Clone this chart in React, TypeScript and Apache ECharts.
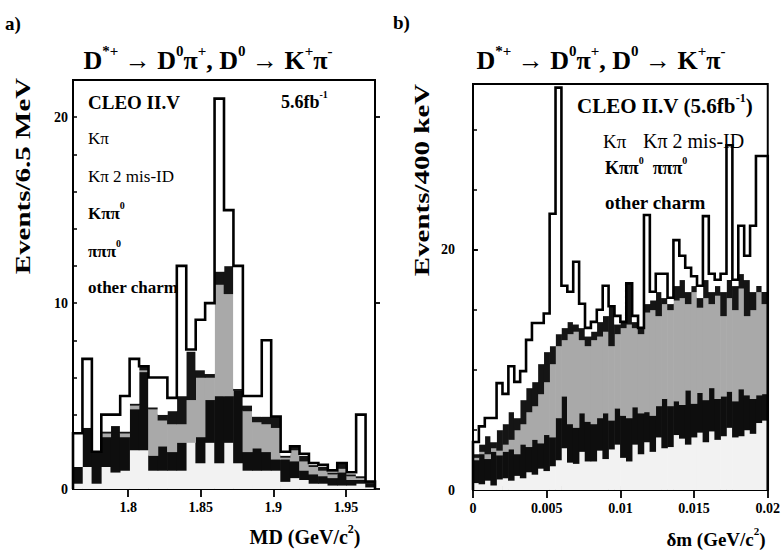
import React, { useEffect, useRef } from "react";
import * as echarts from "echarts";

// ---------- Panel a: MD distribution, 6.5 MeV bins ----------
const mdBinStart = 1.762;
const mdBinWidth = 0.0065;
// stacked contributions per bin (bottom -> top)
const mdOtherCharm = [0.3,1.2,0.3,1.2,0.9,1.0,2.1,2.1,1.0,1.0,1.0,1.0,2.5,1.4,2.5,1.4,2.5,1.4,1.0,1.0,1.0,1.0,0.4,0.6,0.5,0.3,0.3,0.2,0.2,0.2,0.3,0.1];
const mdPiPiPi0 = [0.9,2.1,1.7,1.6,2.5,1.8,2.2,4.2,0.8,1.3,1.0,1.5,0,1.4,2.3,3.6,2.5,3.9,1.0,1.2,1.0,0.6,1.2,0.9,0.5,0.5,0.4,0.4,0.7,0.3,0.2,0.2];
const mdKPiPi0 = [0,0,0,0.2,0,0.2,0.2,0.1,2.5,1.4,1.5,1.0,2.3,3.2,1.2,6.0,5.5,0,2.2,1.4,1.5,1.7,0.1,0.6,0.5,0.4,0.3,0.2,0.2,0.2,0.1,0];
const mdKPi2MisId = [0,0,0,0.1,0,0.1,0.1,0.2,0.1,0.3,0.7,1.5,2.6,0.4,0.2,0.7,1.5,0.1,0.3,0.3,0.4,0.6,0.1,0.2,0.3,0.1,0.2,0.1,0.3,0.1,0.1,0.1];
const mdKPi = [1.8,3.7,0,0.9,0.6,1.9,2.4,0,1.6,2.0,0.7,7.0,0.1,2.7,3.8,9.3,3.0,6.6,0.5,1.1,4.1,0,0.2,0,0.1,0.1,0.1,0.1,0,0.1,3.3,0];
const mdTickLabels = [1.8, 1.85, 1.9, 1.95];
const mdYTickLabels = [0, 10, 20];

// ---------- Panel b: delta m distribution, 400 keV bins ----------
const dmBinStart = 0;
const dmBinWidth = 0.0004;
const dmOtherCharm = [0.6,0.5,0.8,0.4,0.9,1.0,0.8,1.2,1.0,1.5,1.3,1.8,1.6,2.0,2.5,3.5,2.3,2.2,3.2,2.4,2.4,3.3,2.6,3.4,3.8,2.7,2.4,3.8,3.0,4.0,3.2,4.4,3.5,3.6,4.6,4.3,3.8,4.4,4.8,4.0,4.9,4.2,4.5,5.2,4.4,4.5,5.0,4.7,5.6,5.8];
const dmPiPiPi0 = [1.9,2.5,1.8,2.8,2.0,2.2,2.6,1.8,2.8,2.1,2.9,2.1,3.0,2.4,3.5,4.3,3.2,3.0,3.2,3.3,3.1,2.7,3.8,2.4,3.0,3.5,3.6,3.1,3.4,2.5,3.0,2.6,4.1,3.4,2.8,2.8,4.5,2.8,3.3,3.5,3.6,3.4,3.3,3.0,3.0,3.9,2.9,2.9,2.3,2.2];
const dmKPiPi0 = [0.2,0.2,0.4,0.3,0.4,0.6,0.8,2.0,1.7,2.9,2.8,4.1,4.4,6.1,6.0,4.7,7.5,8.0,6.1,6.3,7.0,6.8,6.8,6.2,6.2,7.3,7.8,6.6,6.6,8.3,8.8,7.5,7.9,8.0,8.4,8.9,7.2,9.3,7.1,8.5,7.0,8.6,6.7,7.8,7.6,8.4,6.6,7.4,8.6,7.5];
const dmKPi2MisId = [0.3,0.6,1.5,0.5,1.7,1.7,2.3,1.0,2.0,2.0,2.0,2.5,2.5,1.5,1.0,1.0,1.0,0.6,1.0,0.8,0.7,1.2,1.3,3.3,0.8,0.5,3.4,0.5,0.5,0.7,0.8,2.0,0.5,0.5,1.2,1.5,1.0,0.5,0.8,1.5,1.0,0.8,2.0,1.5,2.0,1.2,3.0,1.5,0.5,1.0];
const dmKPi = [1.0,1.5,1.5,2.0,3.9,2.5,3.8,3.0,2.4,4.0,4.9,3.4,3.2,11.0,20.5,3.5,2.5,5.2,2.0,0.7,0.8,1.0,2.5,0,0.7,0,0,0.5,0,7.4,0.7,1.5,2.0,0.5,3.8,2.0,2.0,0.8,1.0,5.3,1.5,0.5,1.5,11.2,0.5,4.0,2.0,5.5,10.8,11.3];
const dmTickLabels = [0, 0.005, 0.01, 0.015, 0.02];
const dmYTickLabels = [0, 20];

const FONT = "'Liberation Serif', 'DejaVu Serif', serif";
const layerColors = ["#f2f2f2", "#0e0e0e", "#a9a9a9", "#151515", "#ffffff"];

function stackBins(start: number, width: number, layers: number[][]) {
  const n = layers[0].length;
  const cum: number[] = new Array(n).fill(0);
  const rects = layers.map((layer) =>
    layer.map((v, i) => {
      const base = cum[i];
      cum[i] = Math.round((cum[i] + v) * 1000) / 1000;
      return [start + i * width, start + (i + 1) * width, base, cum[i]];
    })
  );
  const outline: number[][] = [[start, 0]];
  cum.forEach((t, i) => {
    outline.push([start + i * width, t], [start + (i + 1) * width, t]);
  });
  outline.push([start + n * width, 0]);
  return { rects, outline };
}

function steps(min: number, max: number, step: number) {
  const out: number[] = [];
  const k0 = Math.ceil(min / step - 1e-9);
  for (let k = k0; k * step <= max + 1e-9; k++) out.push(Math.round(k * step * 1e6) / 1e6);
  return out;
}

const rectRenderer = (color: string) => (_params: any, api: any) => {
  const p0 = api.coord([api.value(0), api.value(2)]);
  const p1 = api.coord([api.value(1), api.value(3)]);
  const h = p0[1] - p1[1];
  if (h <= 0.01) return { type: "group", children: [] };
  return {
    type: "rect",
    shape: { x: p0[0] - 0.3, y: p1[1] - 0.3, width: p1[0] - p0[0] + 0.6, height: h + 0.6 },
    style: { fill: color },
  };
};

function histSeries(xi: number, yi: number, start: number, width: number, layers: number[][]) {
  const { rects, outline } = stackBins(start, width, layers);
  const series: any[] = rects.map((data, li) => ({
    type: "custom",
    xAxisIndex: xi,
    yAxisIndex: yi,
    renderItem: rectRenderer(layerColors[li]),
    encode: { x: [0, 1], y: [2, 3] },
    data,
    clip: true,
    silent: true,
    z: 2,
  }));
  series.push({
    type: "line",
    xAxisIndex: xi,
    yAxisIndex: yi,
    data: outline,
    symbol: "none",
    showSymbol: false,
    lineStyle: { color: "#000", width: 2.6, join: "miter" },
    clip: true,
    silent: true,
    z: 5,
  });
  return series;
}

const labelStyle = { fontFamily: FONT, fontWeight: "bold" as const, fontSize: 14, color: "#000" };

function xAxes(grid: number, min: number, max: number, labels: number[], minorStep: number, margin: number) {
  return [
    {
      type: "value", gridIndex: grid, min, max,
      axisLine: { show: false }, splitLine: { show: false },
      axisTick: { show: true, inside: true, length: 4, customValues: steps(min, max, minorStep), lineStyle: { color: "#000", width: 1.5 } },
      axisLabel: { ...labelStyle, margin, customValues: labels, formatter: (v: number) => String(v) },
    },
    {
      type: "value", gridIndex: grid, min, max,
      axisLine: { show: false }, splitLine: { show: false }, axisLabel: { show: false },
      axisTick: { show: true, inside: true, length: 8, customValues: labels, lineStyle: { color: "#000", width: 1.8 } },
    },
  ];
}

function yAxes(grid: number, max: number, interval: number, labels: number[], margin: number) {
  return [
    {
      type: "value", gridIndex: grid, min: 0, max, interval,
      axisLine: { show: false }, splitLine: { show: false },
      axisTick: { show: true, inside: true, length: 4, lineStyle: { color: "#000", width: 1.5 } },
      axisLabel: { ...labelStyle, margin, showMaxLabel: false, formatter: (v: number) => (labels.includes(v) ? String(v) : "") },
    },
    {
      type: "value", gridIndex: grid, min: 0, max,
      axisLine: { show: false }, splitLine: { show: false }, axisLabel: { show: false },
      axisTick: { show: true, inside: false, length: 5, customValues: labels, lineStyle: { color: "#000", width: 1.8 } },
    },
  ];
}

const richBase = (size: number, weight: string) => ({
  m: { fontFamily: FONT, fontWeight: weight, fontSize: size, lineHeight: size + 4, verticalAlign: "bottom", fill: "#000" },
  s: { fontFamily: FONT, fontWeight: "bold", fontSize: Math.round(size * 0.58), lineHeight: Math.round(size * 0.6), verticalAlign: "top", fill: "#000" },
});

function txt(text: string, x: number, y: number, size: number, weight = "bold", align = "left", extra: any = {}) {
  return {
    type: "text", x, y, silent: true, z: 20, ...extra,
    style: { text, rich: richBase(size, weight), align, verticalAlign: "middle", fill: "#000",
      font: `${weight} ${size}px ${FONT}` },
  };
}

const titleText = "{m|D}{s|*+}{m| \u2192 D}{s|0}{m|\u03c0}{s|+}{m|, D}{s|0}{m| \u2192 K}{s|+}{m|\u03c0}{s|-}";

function buildOption(): any {
  const a = histSeries(0, 0, mdBinStart, mdBinWidth, [mdOtherCharm, mdPiPiPi0, mdKPiPi0, mdKPi2MisId, mdKPi]);
  const b = histSeries(2, 2, dmBinStart, dmBinWidth, [dmOtherCharm, dmPiPiPi0, dmKPiPi0, dmKPi2MisId, dmKPi]);
  const mdMin = mdBinStart;
  const mdMax = Math.round((mdBinStart + mdBinWidth * mdKPi.length) * 1e6) / 1e6;
  const dmMax = Math.round((dmBinStart + dmBinWidth * dmKPi.length) * 1e6) / 1e6;
  return {
    animation: false,
    backgroundColor: "#fff",
    grid: [
      { left: 73, top: 80, width: 302, height: 409, show: true, borderColor: "#000", borderWidth: 2, backgroundColor: "transparent" },
      { left: 473, top: 84, width: 298, height: 406, show: true, borderColor: "#000", borderWidth: 2, backgroundColor: "transparent" },
    ],
    xAxis: [
      ...xAxes(0, mdMin, mdMax, mdTickLabels, 0.005, 11),
      ...xAxes(1, dmBinStart, dmMax, dmTickLabels, 0.001, 11),
    ],
    yAxis: [
      ...yAxes(0, 22, 2, mdYTickLabels, 5),
      ...yAxes(1, 33.8, 5, dmYTickLabels, 18),
    ],
    series: [...a, ...b],
    graphic: [
      txt("{m|a)}", 5, 21, 19),
      txt("{m|b)}", 393, 20, 19),
      txt(titleText, 208, 58, 26, "bold", "center"),
      txt(titleText, 601, 58, 26, "bold", "center"),
      txt("{m|Events/6.5 MeV}", 21, 176, 20, "bold", "center", { rotation: Math.PI / 2, scaleX: 1.45 }),
      txt("{m|Events/400 keV}", 420, 180, 20, "bold", "center", { rotation: Math.PI / 2, scaleX: 1.45 }),
      txt("{m|MD (GeV/c}{s|2}{m|)}", 305, 535, 20, "bold", "center"),
      txt("{m|\u03b4m (GeV/c}{s|2}{m|)}", 716, 537, 19, "bold", "center"),
      // panel a legend
      txt("{m|CLEO II.V}", 88, 100, 19),
      txt("{m|5.6fb}{s|-1}", 281, 100, 18),
      txt("{m|K\u03c0}", 88, 136, 17, "normal"),
      txt("{m|K\u03c0 2 mis-ID}", 88, 174, 17, "normal"),
      txt("{m|K\u03c0\u03c0}{s|0}", 88, 211, 17),
      txt("{m|\u03c0\u03c0\u03c0}{s|0}", 88, 249, 17),
      txt("{m|other charm}", 88, 285, 17),
      // panel b legend
      txt("{m|CLEO II.V (5.6fb}{s|-1}{m|)}", 577, 104, 21),
      txt("{m|K\u03c0}", 603, 139, 19, "normal"),
      txt("{m|K\u03c0 2 mis-ID}", 643, 139, 20, "normal"),
      txt("{m|K\u03c0\u03c0}{s|0}{m|  \u03c0\u03c0\u03c0}{s|0}", 605, 166, 18),
      txt("{m|other charm}", 605, 200, 19),
    ],
  };
}

export default function App() {
  const ref = useRef<HTMLDivElement>(null);
  useEffect(() => {
    if (!ref.current) return;
    const chart = echarts.init(ref.current, null, { renderer: "svg" });
    chart.setOption(buildOption());
    return () => chart.dispose();
  }, []);
  return (
    <div
      ref={ref}
      style={{ position: "fixed", left: 0, top: 0, width: 783, height: 552, background: "#fff" }}
    />
  );
}
